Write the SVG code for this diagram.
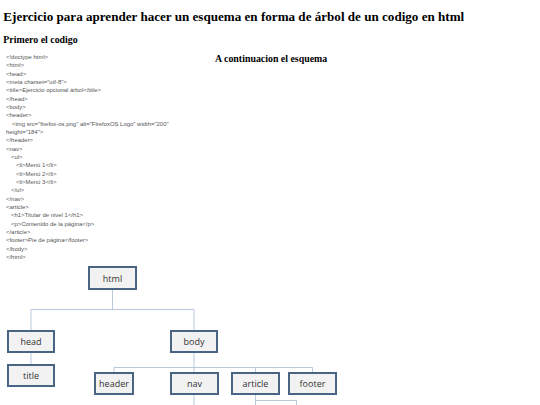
<svg xmlns="http://www.w3.org/2000/svg" width="540" height="405" viewBox="0 0 540 405">
<style>
.h1{font-family:"Liberation Serif",serif;font-weight:bold;font-size:13.1px;fill:#000}
.h2{font-family:"Liberation Serif",serif;font-weight:bold;font-size:9.9px;fill:#000}
.code{font-family:"Liberation Sans",sans-serif;font-size:5.95px;fill:#555}
.box{fill:#f2f2f2;stroke:#4a6584;stroke-width:2}
.lbl{font-family:"Open Sans","Liberation Sans",sans-serif;font-size:9px;fill:#333;text-anchor:middle}
.con{fill:none;stroke:#b9c9dc;stroke-width:1}
</style>
<rect width="540" height="405" fill="#fff"/>
<text class="h1" x="3.3" y="20.7">Ejercicio para aprender hacer un esquema en forma de árbol de un codigo en html</text>
<text class="h2" x="3.3" y="42.7">Primero el codigo</text>
<text class="h2" x="215" y="62.3">A continuacion el esquema</text>
<g id="code" class="code">
<text x="6" y="59">&lt;!doctype html&gt;</text>
<text x="6" y="67.3">&lt;html&gt;</text>
<text x="6" y="75.6">&lt;head&gt;</text>
<text x="6" y="84">&lt;meta charset="utf-8"&gt;</text>
<text x="6" y="92.3">&lt;title&gt;Ejercicio opcional árbol&lt;/title&gt;</text>
<text x="6" y="100.6">&lt;/head&gt;</text>
<text x="6" y="109">&lt;body&gt;</text>
<text x="6" y="117.3">&lt;header&gt;</text>
<text x="12" y="125.6">&lt;img src="firefox-os.png" alt="FirefoxOS Logo" width="200"</text>
<text x="6" y="134">height="184"&gt;</text>
<text x="6" y="142.3">&lt;/header&gt;</text>
<text x="6" y="150.6">&lt;nav&gt;</text>
<text x="11" y="159">&lt;ul&gt;</text>
<text x="16" y="167.3">&lt;li&gt;Menú 1&lt;/li&gt;</text>
<text x="16" y="175.6">&lt;li&gt;Menú 2&lt;/li&gt;</text>
<text x="16" y="184">&lt;li&gt;Menú 3&lt;/li&gt;</text>
<text x="11" y="192.3">&lt;/ul&gt;</text>
<text x="6" y="200.6">&lt;/nav&gt;</text>
<text x="6" y="209">&lt;article&gt;</text>
<text x="11" y="217.3">&lt;h1&gt;Titular de nivel 1&lt;/h1&gt;</text>
<text x="11" y="225.6">&lt;p&gt;Contenido de la página&lt;/p&gt;</text>
<text x="6" y="234">&lt;/article&gt;</text>
<text x="6" y="242.3">&lt;footer&gt;Pie de página&lt;/footer&gt;</text>
<text x="6" y="250.6">&lt;/body&gt;</text>
<text x="6" y="259">&lt;/html&gt;</text>
</g>
<g id="connectors" class="con">
<path d="M112.5 289V309.5M31 309.5H194M31 309.5V330M194 309.5V330"/>
<path d="M31 353V364"/>
<path d="M194 353V367.5M114 367.5H312.5M114 367.5V372M194 367.5V372M255.5 367.5V372M312.5 367.5V372"/>
<path d="M194 394V405"/>
<path d="M255.5 394V405M255.5 400.5H296.5V405"/>
</g>
<g id="html"><rect class="box" x="89" y="267" width="47" height="22"/><text class="lbl" x="112.5" y="281.5">html</text></g>
<g id="head"><rect class="box" x="8" y="331" width="46" height="21"/><text class="lbl" x="31" y="345">head</text></g>
<g id="title"><rect class="box" x="8" y="365" width="46" height="21"/><text class="lbl" x="31" y="379">title</text></g>
<g id="body"><rect class="box" x="171" y="331" width="46" height="21"/><text class="lbl" x="194" y="345">body</text></g>
<g id="header"><rect class="box" x="95" y="373" width="38" height="21"/><text class="lbl" x="114" y="387">header</text></g>
<g id="nav"><rect class="box" x="171" y="373" width="47" height="21"/><text class="lbl" x="194.5" y="387">nav</text></g>
<g id="article"><rect class="box" x="232" y="373" width="47" height="21"/><text class="lbl" x="255.5" y="387">article</text></g>
<g id="footer"><rect class="box" x="289" y="373" width="47" height="21"/><text class="lbl" x="312.5" y="387">footer</text></g>
</svg>
